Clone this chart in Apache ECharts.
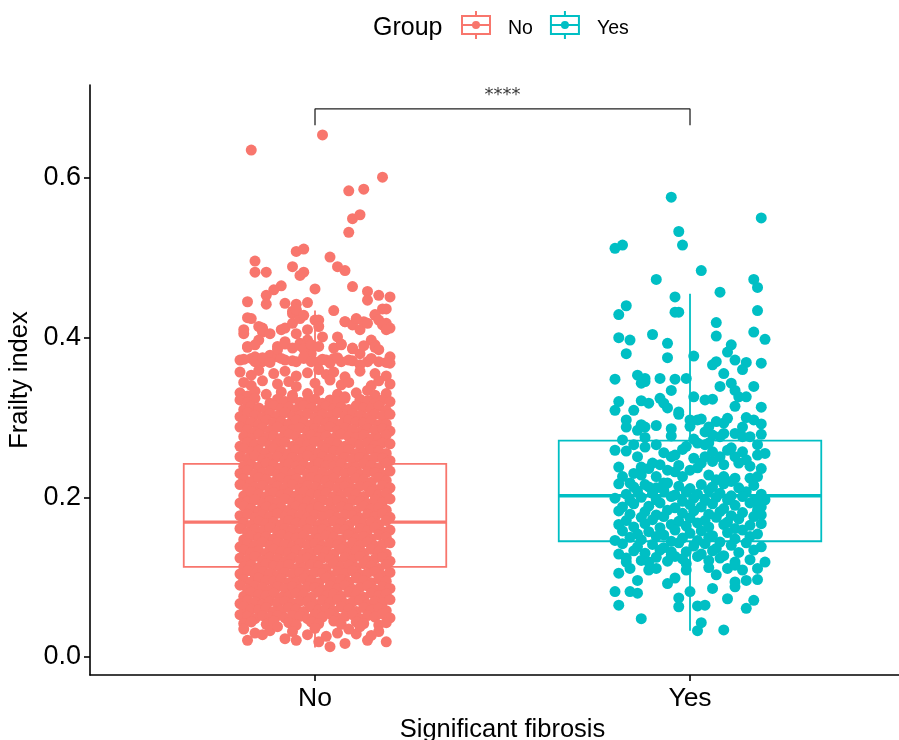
<!DOCTYPE html>
<html><head><meta charset="utf-8">
<script src="https://cdn.jsdelivr.net/npm/echarts@6/dist/echarts.min.js"></script>
<style>html,body{margin:0;padding:0;background:#fff}#c{width:899px;height:740px}</style>
</head><body><div id="c"></div>
<script>
const categories = ['No', 'Yes'];
const groupColors = ['#F8766D', '#00BFC4'];
// box statistics: [lower whisker, Q1, median, Q3, upper whisker]
const boxNo = [0.012, 0.113, 0.169, 0.242, 0.434];
const boxYes = [0.033, 0.145, 0.202, 0.271, 0.455];
const yTicks = [0, 0.2, 0.4, 0.6];
const xTicks = [1, 2];
// jittered points: [horizontal jitter in hundredths of a category, frailty index in thousandths]
const noPoints = [
[-17,635],[2,654],[18,601],[9,584],[13,586],[10,549],[12,554],[9,532],[-5,508],[-3,511],[-16,496],[-16,482],[-13,482],[4,501],[6,489],[8,484],[-6,489],[-4,478],[-3,482],[10,464],[0,461],[-9,465],[-11,460],[-13,453],[-13,442],[-18,445],[-8,443],[-5,442],[-2,444],[14,458],[14,447],[17,453],[20,451],[5,434],[18,436],[19,436],[16,429],[-18,425],[-17,424],[-6,430],[-5,434],[8,420],[11,423],[13,420],[19,418],[20,412],[1,422],[-14,412],[-14,407],[-19,405],
[-15,414],[-14,410],[-19,410],[-18,389],[-15,397],[-12,405],[-9,410],[-8,412],[-6,418],[-4,424],[-6,433],[-5,435],[-3,428],[-2,410],[0,422],[1,414],[2,401],[-2,397],[-4,393],[-5,405],[-8,395],[-10,389],[6,401],[7,391],[8,420],[10,416],[11,424],[12,410],[14,418],[16,428],[17,422],[18,416],[19,410],[15,397],[16,391],[10,387],[12,380],[9,372],[-20,372],[-17,374],[-16,376],[-14,370],[-12,378],[-10,376],[-8,372],[-5,370],[-3,374],[-1,380],[1,370],[3,372],[5,374],[7,370],[14,370],[17,370],[20,376],[20,368],
[-18,388],[-16,391],[-10,385],[-8,392],[-6,387],[-4,390],[-3,386],[-1,391],[1,389],[5,387],[7,392],[10,386],[13,390],[16,388],[17,385],
[-19,373],[-16,370],[-14,375],[-12,369],[-9,374],[-6,371],[-3,376],[-1,370],[2,373],[4,368],[6,375],[10,371],[12,366],[15,374],[19,369],
[-20,357],[-17,353],[-15,359],[-11,355],[-8,358],[-5,352],[-2,356],[1,360],[3,354],[5,357],[8,351],[12,358],[16,355],[19,352],
[-19,344],[-17,340],[-14,346],[-10,342],[-7,345],[-5,339],[0,343],[4,347],[7,341],[9,344],[15,340],[17,346],[20,342],
[-20,331],[-18,327],[-16,333],[-13,329],[-9,332],[-6,328],[-2,330],[1,334],[6,329],[8,326],[11,331],[14,334],[16,328],[19,330],
[-20,322],[-18,319],[-16,324],[-12,318],[-10,323],[-8,320],[-6,324],[-4,319],[-2,321],[0,323],[2,318],[4,322],[6,320],[8,324],[12,323],[14,321],[16,318],[18,322],[20,320],
[-19,310],[-17,314],[-15,312],[-13,309],[-11,315],[-9,311],[-7,313],[-5,310],[-3,315],[-1,312],[1,309],[3,314],[5,311],[7,313],[9,310],[11,315],[13,312],[15,311],[17,314],[19,309],
[-20,301],[-18,306],[-16,303],[-14,300],[-12,305],[-10,302],[-8,306],[-6,301],[-4,303],[-2,305],[0,300],[2,304],[4,302],[6,306],[8,301],[10,305],[12,303],[14,300],[16,304],[18,302],[20,304],
[-19,296],[-17,294],[-15,291],[-13,297],[-11,293],[-9,295],[-7,292],[-5,297],[-3,294],[-1,291],[1,296],[3,293],[5,295],[7,292],[9,297],[11,294],[13,293],[15,296],[17,291],[19,292],
[-20,288],[-18,285],[-16,282],[-14,287],[-12,284],[-10,288],[-8,283],[-6,285],[-4,287],[-2,282],[0,286],[2,284],[4,288],[6,283],[8,287],[10,285],[12,282],[14,286],[16,284],[18,286],[20,283],
[-19,276],[-17,273],[-15,279],[-13,275],[-11,277],[-9,274],[-7,279],[-5,276],[-3,273],[-1,278],[1,275],[3,277],[5,274],[7,279],[9,276],[11,275],[13,278],[15,273],[17,274],[19,278],
[-20,264],[-18,269],[-16,266],[-14,270],[-12,265],[-10,267],[-8,269],[-6,264],[-4,268],[-2,266],[0,270],[2,265],[4,269],[6,267],[8,264],[10,268],[12,266],[14,268],[16,265],[18,268],[20,267],
[-19,261],[-17,257],[-15,259],[-13,256],[-11,261],[-9,258],[-7,255],[-5,260],[-3,257],[-1,259],[1,256],[3,261],[5,258],[7,257],[9,260],[11,255],[13,256],[15,260],[17,258],[19,255],
[-20,251],[-18,248],[-16,252],[-14,247],[-12,249],[-10,251],[-8,246],[-6,250],[-4,248],[-2,252],[0,247],[2,251],[4,249],[6,246],[8,250],[10,248],[12,250],[14,247],[16,250],[18,249],[20,246],
[-19,239],[-17,241],[-15,238],[-13,243],[-11,240],[-9,237],[-7,242],[-5,239],[-3,241],[-1,238],[1,243],[3,240],[5,239],[7,242],[9,237],[11,238],[13,242],[15,240],[17,237],[19,243],
[-20,230],[-18,234],[-16,229],[-14,231],[-12,233],[-10,228],[-8,232],[-6,230],[-4,234],[-2,229],[0,233],[2,231],[4,228],[6,232],[8,230],[10,232],[12,229],[14,232],[16,231],[18,228],[20,233],
[-19,223],[-17,220],[-15,225],[-13,222],[-11,219],[-9,224],[-7,221],[-5,223],[-3,220],[-1,225],[1,222],[3,221],[5,224],[7,219],[9,220],[11,224],[13,222],[15,219],[17,225],[19,221],
[-20,216],[-18,211],[-16,213],[-14,215],[-12,210],[-10,214],[-8,212],[-6,216],[-4,211],[-2,215],[0,213],[2,210],[4,214],[6,212],[8,214],[10,211],[12,214],[14,213],[16,210],[18,215],[20,212],
[-19,202],[-17,207],[-15,204],[-13,201],[-11,206],[-9,203],[-7,205],[-5,202],[-3,207],[-1,204],[1,203],[3,206],[5,201],[7,202],[9,206],[11,204],[13,201],[15,207],[17,203],[19,205],
[-20,193],[-18,195],[-16,197],[-14,192],[-12,196],[-10,194],[-8,198],[-6,193],[-4,197],[-2,195],[0,192],[2,196],[4,194],[6,196],[8,193],[10,196],[12,195],[14,192],[16,197],[18,194],[20,198],
[-19,189],[-17,186],[-15,183],[-13,188],[-11,185],[-9,187],[-7,184],[-5,189],[-3,186],[-1,185],[1,188],[3,183],[5,184],[7,188],[9,186],[11,183],[13,189],[15,185],[17,187],[19,184],
[-20,177],[-18,179],[-16,174],[-14,178],[-12,176],[-10,180],[-8,175],[-6,179],[-4,177],[-2,174],[0,178],[2,176],[4,178],[6,175],[8,178],[10,177],[12,174],[14,179],[16,176],[18,180],[20,175],
[-19,168],[-17,165],[-15,170],[-13,167],[-11,169],[-9,166],[-7,171],[-5,168],[-3,167],[-1,170],[1,165],[3,166],[5,170],[7,168],[9,165],[11,171],[13,167],[15,169],[17,166],[19,171],
[-20,161],[-18,156],[-16,160],[-14,158],[-12,162],[-10,157],[-8,161],[-6,159],[-4,156],[-2,160],[0,158],[2,160],[4,157],[6,160],[8,159],[10,156],[12,161],[14,158],[16,162],[18,157],[20,159],
[-19,147],[-17,152],[-15,149],[-13,151],[-11,148],[-9,153],[-7,150],[-5,149],[-3,152],[-1,147],[1,148],[3,152],[5,150],[7,147],[9,153],[11,149],[13,151],[15,148],[17,153],[19,150],
[-20,138],[-18,142],[-16,140],[-14,144],[-12,139],[-10,143],[-8,141],[-6,138],[-4,142],[-2,140],[0,142],[2,139],[4,142],[6,141],[8,138],[10,143],[12,140],[14,144],[16,139],[18,141],[20,143],
[-19,134],[-17,131],[-15,133],[-13,130],[-11,135],[-9,132],[-7,131],[-5,134],[-3,129],[-1,130],[1,134],[3,132],[5,129],[7,135],[9,131],[11,133],[13,130],[15,135],[17,132],[19,129],
[-20,124],[-18,122],[-16,126],[-14,121],[-12,125],[-10,123],[-8,120],[-6,124],[-4,122],[-2,124],[0,121],[2,124],[4,123],[6,120],[8,125],[10,122],[12,126],[14,121],[16,123],[18,125],[20,120],
[-19,113],[-17,115],[-15,112],[-13,117],[-11,114],[-9,113],[-7,116],[-5,111],[-3,112],[-1,116],[1,114],[3,111],[5,117],[7,113],[9,115],[11,112],[13,117],[15,114],[17,111],[19,116],
[-20,104],[-18,108],[-16,103],[-14,107],[-12,105],[-10,102],[-8,106],[-6,104],[-4,106],[-2,103],[0,106],[2,105],[4,102],[6,107],[8,104],[10,108],[12,103],[14,105],[16,107],[18,102],[20,106],
[-19,97],[-17,94],[-15,99],[-13,96],[-11,95],[-9,98],[-7,93],[-5,94],[-3,98],[-1,96],[1,93],[3,99],[5,95],[7,97],[9,94],[11,99],[13,96],[15,93],[17,98],[19,95],
[-20,90],[-18,85],[-16,89],[-14,87],[-12,84],[-10,88],[-8,86],[-6,88],[-4,85],[-2,88],[0,87],[2,84],[4,89],[6,86],[8,90],[10,85],[12,87],[14,89],[16,84],[18,88],[20,86],
[-19,76],[-17,81],[-15,78],[-13,77],[-11,80],[-9,75],[-7,76],[-5,80],[-3,78],[-1,75],[1,81],[3,77],[5,79],[7,76],[9,81],[11,78],[13,75],[15,80],[17,77],[19,79],
[-20,67],[-18,71],[-16,69],[-14,66],[-12,70],[-10,68],[-8,70],[-6,67],[-4,70],[-2,69],[0,66],[2,71],[4,68],[6,72],[8,67],[10,69],[12,71],[14,66],[16,70],[18,68],[20,72],
[-19,63],[-17,60],[-15,59],[-13,62],[-11,57],[-9,58],[-7,62],[-5,60],[-3,57],[-1,63],[1,59],[3,61],[5,58],[7,63],[9,60],[11,57],[13,62],[15,59],[17,61],[19,58],
[-20,53],[-18,51],[-16,48],[-14,52],[-12,50],[-10,52],[-8,49],[-6,52],[-4,51],[-2,48],[0,53],[2,50],[4,54],[6,49],[8,51],[10,53],[12,48],[14,52],[16,50],[18,54],[20,49],
[-19,42],[-17,44],[-13,41],[-11,45],[-7,43],[-5,40],[-1,44],[1,42],[5,45],[7,41],[11,44],[13,42],[17,40],[19,43],
[-18,21],[-16,30],[-12,33],[-8,23],[-5,21],[-2,28],[1,19],[3,26],[4,13],[6,30],[8,17],[11,29],[14,21],[17,32],[19,19],[-19,35],[-10,38],[0,36],[12,38],[-6,32],[9,35],[-14,28],[15,27]
];
const yesPoints = [
[-5,576],[19,550],[-3,533],[-2,516],[-20,512],[-18,516],[3,484],[-9,473],[17,473],[18,463],[8,457],[-4,451],[-4,432],[-3,432],[-17,440],[-19,429],[18,434],[7,419],[17,407],[20,398],[7,402],[-10,404],[-19,400],[-16,397],
[-17,380],[-6,393],[-6,375],[1,377],[11,391],[10,382],[12,372],[7,370],[6,366],[15,369],[14,360],[19,368],[9,355],[-20,348],[-14,353],[-12,349],[-13,343],[-12,345],[-8,349],[-4,348],[-1,349],[-5,334],[11,343],[12,334],[8,339],[17,339],[13,326],[15,326],[1,326],[4,322],[6,323],[-19,320],[-20,309],[-13,321],[-11,318],[-15,309],[-8,324],[-7,318],[-6,312],[-3,307],[-3,304],[0,297],[2,297],[3,298],[12,314],[19,313],[15,300],[17,297],[10,299],[9,293],[7,295],[5,288],[4,282],[-17,297],[-17,288],[-13,291],[-14,284],[-12,288],[12,280],[14,276],[9,280],[8,276],[-18,272],[-20,259],[-15,266],[-12,263],[-9,266],[-1,264],[2,268],[4,266],[5,268],[18,266],[18,253],[14,257],[15,247],[-5,251],[-4,253],[-14,251],[-13,238],[-13,228],[-10,243],[-8,241],[-6,234],[1,249],[3,243],[4,251],[6,245],[8,251],[10,259],[12,251],[13,243],[-4,232],[-2,226],[0,234],[5,228],[7,222],[9,226],[11,220],[12,224],[16,224],[18,226],[-9,226],[-7,218],[-11,213],[-16,218],[-15,230],[-18,226],
[-19,238],[-11,236],[-3,240],[2,237],[9,241],[16,239],[19,236],[-17,258],[-7,256],[-2,260],[6,257],[11,262],[20,255],[-12,275],[-5,277],[1,273],[6,278],[16,276],[19,279],[-9,290],[-5,286],[0,289],[14,288],[19,292],
[-19,217],[-15,213],[-12,216],[-9,212],[-6,218],[-3,214],[0,211],[3,216],[6,213],[9,217],[13,212],[17,215],
[-17,204],[-14,208],[-10,205],[-7,209],[-4,203],[-1,207],[2,204],[5,209],[8,205],[11,202],[15,207],[19,204],
[-20,199],[-16,196],[-13,200],[-9,197],[-5,201],[-2,195],[1,199],[4,196],[7,200],[10,197],[14,201],[17,195],
[-18,188],[-15,192],[-11,189],[-8,193],[-4,187],[0,191],[3,188],[6,192],[9,186],[12,190],[16,193],[19,188],
[-19,183],[-16,179],[-12,182],[-9,178],[-6,184],[-2,180],[1,183],[5,179],[8,182],[11,177],[14,181],[18,184],
[-17,171],[-13,175],[-10,172],[-7,176],[-3,170],[0,174],[4,171],[7,175],[10,169],[13,173],[17,176],
[-19,166],[-15,163],[-12,167],[-8,162],[-5,166],[-1,164],[2,168],[5,163],[9,166],[12,161],[16,165],[19,167],
[-18,158],[-14,154],[-11,157],[-7,153],[-4,159],[0,155],[3,158],[6,152],[10,156],[14,159],[18,154],
[-20,146],[-16,150],[-13,147],[-9,151],[-5,145],[-2,149],[2,146],[5,150],[8,144],[12,148],[16,151],
[-18,142],[-14,138],[-10,141],[-7,137],[-3,143],[1,139],[4,142],[7,136],[11,140],[15,143],[19,138],
[-19,129],[-15,133],[-12,130],[-8,134],[-5,128],[-1,132],[3,129],[6,133],[9,127],[13,131],[17,134],
[-17,124],[-13,121],[-9,125],[-6,120],[-2,123],[2,126],[5,121],[8,124],[12,119],[16,122],
[-19,105],[-20,82],[-19,65],[-16,82],[-14,80],[-14,96],[-13,48],[-6,92],[-4,99],[-3,74],[-3,63],[0,82],[2,64],[4,65],[3,43],[2,33],[6,86],[10,73],[12,88],[12,94],[9,34],[15,61],[17,71],[18,97],[15,96],[5,112],[7,103],[-1,109],[-1,117],[-5,132],[-4,126],[-11,109],[-9,111],[-11,119],[-16,111],[-17,119],[10,111],[12,115],[14,109],[20,119],[18,111],[19,178],[20,197],[18,197]
];
const bracketY = [0.666, 0.6865];
const signifLabel = '****';

const boxIcon = 'path://M0 4H30V24H0Z M2 6V22H28V6Z M2 13H28V15H2Z M14 0H16V4H14Z M14 24H16V28H14Z M11 14A4 4 0 1 1 19 14A4 4 0 1 1 11 14Z';

function renderBox(params, api) {
  const x = api.value(0);
  const hw = api.size([0.35, 0])[0];
  const lo = api.coord([x, api.value(1)]);
  const q1 = api.coord([x, api.value(2)]);
  const md = api.coord([x, api.value(3)]);
  const q3 = api.coord([x, api.value(4)]);
  const hi = api.coord([x, api.value(5)]);
  const color = api.visual('color');
  return {type: 'group', children: [
    {type: 'line', shape: {x1: hi[0], y1: hi[1], x2: q3[0], y2: q3[1]}, style: {stroke: color, lineWidth: 1.8}},
    {type: 'line', shape: {x1: q1[0], y1: q1[1], x2: lo[0], y2: lo[1]}, style: {stroke: color, lineWidth: 1.8}},
    {type: 'rect', shape: {x: q3[0] - hw, y: q3[1], width: 2 * hw, height: q1[1] - q3[1]}, style: {stroke: color, lineWidth: 1.8, fill: 'none'}},
    {type: 'line', shape: {x1: md[0] - hw, y1: md[1], x2: md[0] + hw, y2: md[1]}, style: {stroke: color, lineWidth: 3.4}}
  ]};
}

const font = 'Liberation Sans';
const chart = echarts.init(document.getElementById('c'), null, {renderer: 'canvas'});
chart.setOption({
  animation: false,
  backgroundColor: '#fff',
  title: {text: 'Group', left: 373, top: 16, padding: 0,
    textStyle: {fontFamily: font, fontSize: 25, fontWeight: 'normal', color: '#000'}},
  legend: {
    data: [{name: 'No', icon: boxIcon}, {name: 'Yes', icon: boxIcon}],
    left: 461, top: 11, padding: 0, itemWidth: 30, itemHeight: 28, itemGap: 17, selectedMode: false,
    formatter: '{t|{name}}',
    textStyle: {fontFamily: font, fontSize: 19.5, color: '#000',
      rich: {t: {fontFamily: font, fontSize: 19.5, color: '#000', padding: [8, 0, 0, 12]}}}
  },
  grid: {left: 90, right: 0, top: 85, bottom: 65, containLabel: false, outerBoundsMode: 'none'},
  xAxis: {
    type: 'value', min: 0.4, max: 2.5573,
    axisLine: {show: true, onZero: false, lineStyle: {color: '#000', width: 1.6}},
    axisTick: {show: true, length: 6, customValues: xTicks, lineStyle: {color: '#000', width: 1.6}},
    axisLabel: {customValues: xTicks, formatter: v => categories[Math.round(v) - 1], fontSize: 26.5, color: '#000', fontFamily: font, margin: 10},
    splitLine: {show: false},
    name: 'Significant fibrosis', nameLocation: 'middle', nameGap: 37,
    nameTextStyle: {fontSize: 25.5, color: '#000', fontFamily: font, padding: [0, 0, 0, 16]}
  },
  yAxis: {
    type: 'value', min: -0.0225, max: 0.7165,
    axisLine: {show: true, onZero: false, lineStyle: {color: '#000', width: 1.6}},
    axisTick: {show: true, length: 6, customValues: yTicks, lineStyle: {color: '#000', width: 1.6}},
    axisLabel: {customValues: yTicks, formatter: v => v.toFixed(1), fontSize: 27, color: '#000', fontFamily: font, margin: 9},
    splitLine: {show: false},
    name: 'Frailty index', nameLocation: 'middle', nameGap: 55,
    nameTextStyle: {fontSize: 25.5, color: '#000', fontFamily: font}
  },
  series: [
    {name: 'No', type: 'custom', renderItem: renderBox, itemStyle: {color: groupColors[0]},
     encode: {x: 0, y: [1, 2, 3, 4, 5]}, data: [[1].concat(boxNo)], silent: true, z: 2},
    {name: 'Yes', type: 'custom', renderItem: renderBox, itemStyle: {color: groupColors[1]},
     encode: {x: 0, y: [1, 2, 3, 4, 5]}, data: [[2].concat(boxYes)], silent: true, z: 2},
    {name: 'No', type: 'scatter', symbolSize: 11, large: false, progressive: 0, silent: true, z: 3,
     itemStyle: {color: groupColors[0], opacity: 1},
     data: noPoints.map(p => [1 + p[0] / 100, p[1] / 1000])},
    {name: 'Yes', type: 'scatter', symbolSize: 11, large: false, progressive: 0, silent: true, z: 3,
     itemStyle: {color: groupColors[1], opacity: 1},
     data: yesPoints.map(p => [2 + p[0] / 100, p[1] / 1000])},
    {name: 'bracket', type: 'line', symbol: 'none', silent: true, z: 4,
     lineStyle: {color: '#222', width: 1.3},
     data: [[1, bracketY[0]], [1, bracketY[1]], [2, bracketY[1]], [2, bracketY[0]]]},
    {name: 'signif', type: 'scatter', symbolSize: 1, silent: true, z: 4,
     itemStyle: {color: 'rgba(0,0,0,0)'},
     label: {show: true, position: 'inside', formatter: signifLabel, fontSize: 18, color: '#000', fontFamily: 'DejaVu Sans'},
     data: [[1.5, 0.703]]}
  ]
});
</script>
</body></html>
